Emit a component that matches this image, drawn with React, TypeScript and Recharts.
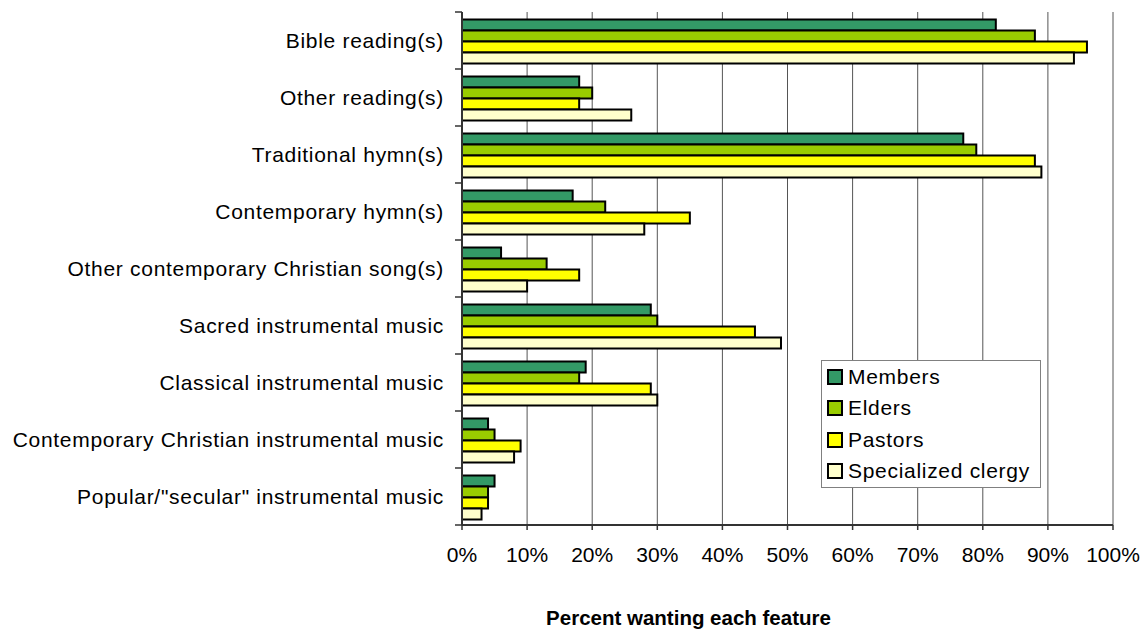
import React from "react";
import {
  BarChart,
  Bar,
  XAxis,
  YAxis,
  CartesianGrid,
  Legend,
  Label,
} from "recharts";

const categories = [
  "Bible reading(s)",
  "Other reading(s)",
  "Traditional hymn(s)",
  "Contemporary hymn(s)",
  "Other contemporary Christian song(s)",
  "Sacred instrumental music",
  "Classical instrumental music",
  "Contemporary Christian instrumental music",
  'Popular/"secular" instrumental music',
];

const seriesNames = ["Members", "Elders", "Pastors", "Specialized clergy"];

const members = [82, 18, 77, 17, 6, 29, 19, 4, 5];
const elders = [88, 20, 79, 22, 13, 30, 18, 5, 4];
const pastors = [96, 18, 88, 35, 18, 45, 29, 9, 4];
const specialized = [94, 26, 89, 28, 10, 49, 30, 8, 3];

const xTicks = [0, 10, 20, 30, 40, 50, 60, 70, 80, 90, 100];

const data = categories.map((name, i) => ({
  name,
  members: members[i],
  elders: elders[i],
  pastors: pastors[i],
  specialized: specialized[i],
}));

const FONT = '"Liberation Sans", Arial, sans-serif';
const TICK_SIZE = 7;
const TICK_MARGIN = 11;

const CategoryTick = (props: any) => {
  const { x, y, payload, index, visibleTicksCount } = props;
  const half = payload && payload.offset ? payload.offset : 28.5;
  const ax = x + TICK_MARGIN;
  return (
    <g>
      <line x1={ax} x2={ax + TICK_SIZE} y1={y - half} y2={y - half} stroke="#333" strokeWidth={1.5} />
      {index === visibleTicksCount - 1 && (
        <line x1={ax} x2={ax + TICK_SIZE} y1={y + half} y2={y + half} stroke="#333" strokeWidth={1.5} />
      )}
      <text
        x={x}
        y={y}
        textAnchor="end"
        dominantBaseline="central"
        fontSize={21}
        letterSpacing={0.7}
        fontFamily={FONT}
        fill="#000"
      >
        {payload.value}
      </text>
    </g>
  );
};

const renderLegend = (props: any) => {
  const items = [...(props.payload || [])].sort(
    (a: any, b: any) => seriesNames.indexOf(a.value) - seriesNames.indexOf(b.value)
  );
  return (
    <div
      style={{
        border: "1px solid #808080",
        background: "#fff",
        width: 220,
        boxSizing: "border-box",
        fontFamily: FONT,
        fontSize: 21,
        letterSpacing: 0.7,
        color: "#000",
      }}
    >
      {items.map((entry: any) => (
        <div
          key={entry.value}
          style={{ height: 31.5, display: "flex", alignItems: "center" }}
        >
          <span
            style={{
              display: "inline-block",
              width: 16,
              height: 16,
              boxSizing: "border-box",
              border: "2px solid #000",
              background: entry.color,
              marginLeft: 5,
              marginRight: 5,
            }}
          />
          <span>{entry.value}</span>
        </div>
      ))}
    </div>
  );
};

export default function App() {
  return (
    <div style={{ position: "absolute", left: 0, top: 0, width: 1143, height: 630, background: "#fff" }}>
      <BarChart
        width={1143}
        height={630}
        data={data}
        layout="vertical"
        margin={{ top: 12, right: 30, left: 0, bottom: 0 }}
        barCategoryGap="13%"
        barGap={0}
      >
        <CartesianGrid horizontal={false} vertical={true} stroke="#555" strokeWidth={1} />
        <XAxis
          type="number"
          domain={[0, 100]}
          ticks={xTicks}
          tickFormatter={(v: number) => `${v}%`}
          height={105}
          tickSize={5}
          tickMargin={17.5}
          axisLine={{ stroke: "#333", strokeWidth: 2 }}
          tickLine={{ stroke: "#333", strokeWidth: 1.5 }}
          tick={{ fontSize: 21, fill: "#000", fontFamily: FONT }}
          interval={0}
        >
          <Label
            value="Percent wanting each feature"
            position="insideBottom"
            offset={5}
            dx={-99}
            style={{ fontSize: 20.5, fontWeight: "bold", fill: "#000", fontFamily: FONT }}
          />
        </XAxis>
        <XAxis
          xAxisId="top"
          orientation="top"
          type="number"
          domain={[0, 100]}
          height={0}
          tick={false}
          tickLine={false}
          axisLine={{ stroke: "#555", strokeWidth: 1 }}
        />
        <YAxis
          type="category"
          dataKey="name"
          width={462}
          tickSize={TICK_SIZE}
          tickMargin={TICK_MARGIN}
          tickLine={false}
          axisLine={{ stroke: "#333", strokeWidth: 2 }}
          tick={<CategoryTick />}
          interval={0}
        />
        <Legend
          content={renderLegend}
          layout="vertical"
          align="center"
          verticalAlign="middle"
          wrapperStyle={{ position: "absolute", left: 821, top: 360, width: 220 }}
        />
        <Bar dataKey="members" name="Members" fill="#339966" stroke="#000" strokeWidth={2} isAnimationActive={false} />
        <Bar dataKey="elders" name="Elders" fill="#99CC00" stroke="#000" strokeWidth={2} isAnimationActive={false} />
        <Bar dataKey="pastors" name="Pastors" fill="#FFFF00" stroke="#000" strokeWidth={2} isAnimationActive={false} />
        <Bar
          dataKey="specialized"
          name="Specialized clergy"
          fill="#FFFFCC"
          stroke="#000"
          strokeWidth={2}
          isAnimationActive={false}
        />
      </BarChart>
    </div>
  );
}
